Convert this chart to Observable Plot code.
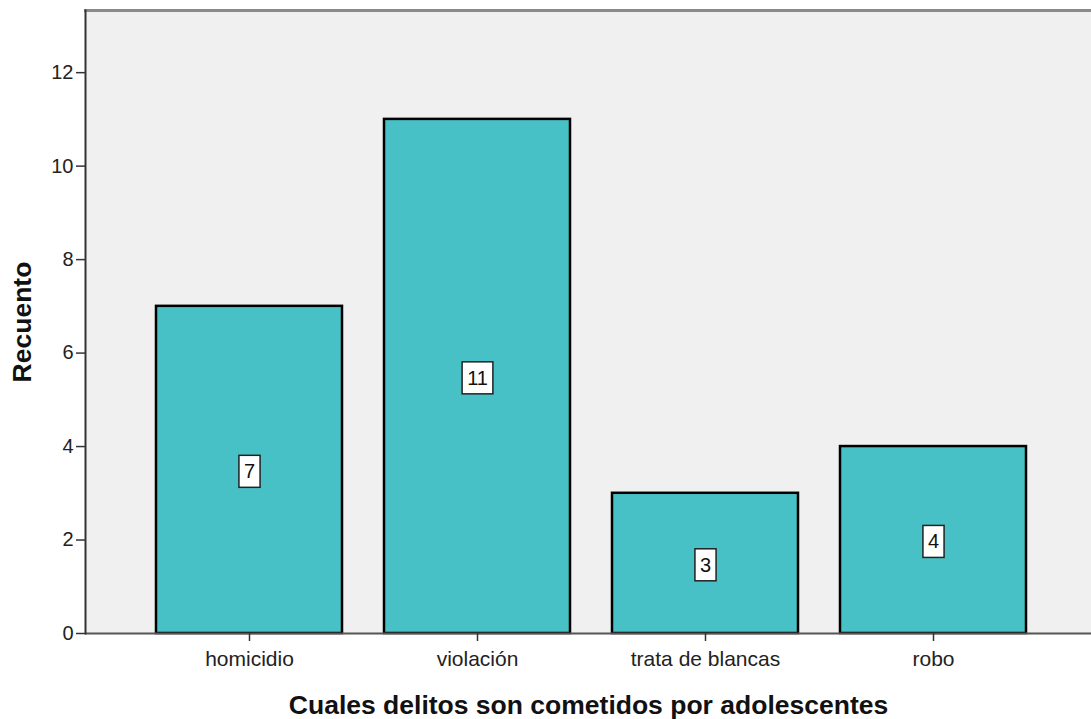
<!DOCTYPE html>
<html>
<head>
<meta charset="utf-8">
<script src="https://cdn.jsdelivr.net/npm/d3@7"></script>
<script src="https://cdn.jsdelivr.net/npm/@observablehq/plot@0.6"></script>
<style>
  html, body { margin: 0; padding: 0; background: #fff; overflow: hidden; }
  #chart svg { display: block; }
  g[aria-label="y-axis label"] text, g[aria-label="x-axis label"] text { font-weight: bold; font-size: 26.5px; fill: #111; }
  g[aria-label="x-axis tick label"] text { font-size: 21px; }
</style>
</head>
<body>
<div id="chart"></div>
<script>
const categories = ["homicidio", "violación", "trata de blancas", "robo"];
const counts = [7, 11, 3, 4];
const yTicks = [0, 2, 4, 6, 8, 10, 12];
const xTitle = "Cuales delitos son cometidos por adolescentes";
const yTitle = "Recuento";

const data = categories.map((c, i) => ({ category: c, count: counts[i] }));

const chart = Plot.plot({
  width: 1091,
  height: 719,
  marginLeft: 85,
  marginRight: 0,
  marginTop: 10,
  marginBottom: 86,
  style: { background: "#fff", fontFamily: "'Liberation Sans', Arial, sans-serif", fontSize: "20px", color: "#222" },
  x: { domain: categories, range: [85, 1098], paddingInner: 0.184, paddingOuter: 0.313 },
  y: { domain: [0, 13.33] },
  marks: [
    Plot.frame({ fill: "#f0f0f0", stroke: null }),
    Plot.frame({ anchor: "top", stroke: "#8a8a8a", strokeWidth: 3 }),
    Plot.barY(data, { x: "category", y: "count", fill: "#48c1c6", stroke: "#000", strokeWidth: 2.5 }),
    Plot.ruleY([0], { stroke: "#555", strokeWidth: 2 }),
    Plot.frame({ anchor: "left", stroke: "#333", strokeWidth: 2 }),
    Plot.axisY({ ticks: yTicks, tickSize: 9, tickPadding: 3, stroke: "#333", strokeWidth: 1.5,
      label: yTitle, labelAnchor: "center", labelArrow: "none", labelOffset: 73 }),
    Plot.axisX({ tickSize: 8, tickPadding: 10, stroke: "#333", strokeWidth: 1.5,
      label: xTitle, labelAnchor: "center", labelArrow: "none", labelOffset: 80 }),
    Plot.text(data, { x: "category", y: d => d.count / 2, text: d => String(d.count), fill: "#111", fontSize: 20, dy: 2 })
  ]
});

document.getElementById("chart").appendChild(chart);

// white boxes behind value labels
d3.select(chart).selectAll('g[aria-label="text"] text').each(function () {
  const bb = this.getBBox();
  const w = bb.width + 10, h = 32;
  const cx = bb.x + bb.width / 2, cy = bb.y + bb.height / 2;
  const r = document.createElementNS("http://www.w3.org/2000/svg", "rect");
  r.setAttribute("x", cx - w / 2);
  r.setAttribute("y", cy - h / 2);
  r.setAttribute("width", w);
  r.setAttribute("height", h);
  r.setAttribute("fill", "#fff");
  r.setAttribute("stroke", "#222");
  r.setAttribute("stroke-width", "1.5");
  const t = this.getAttribute("transform");
  if (t) r.setAttribute("transform", t);
  this.parentNode.insertBefore(r, this);
});
</script>
</body>
</html>
